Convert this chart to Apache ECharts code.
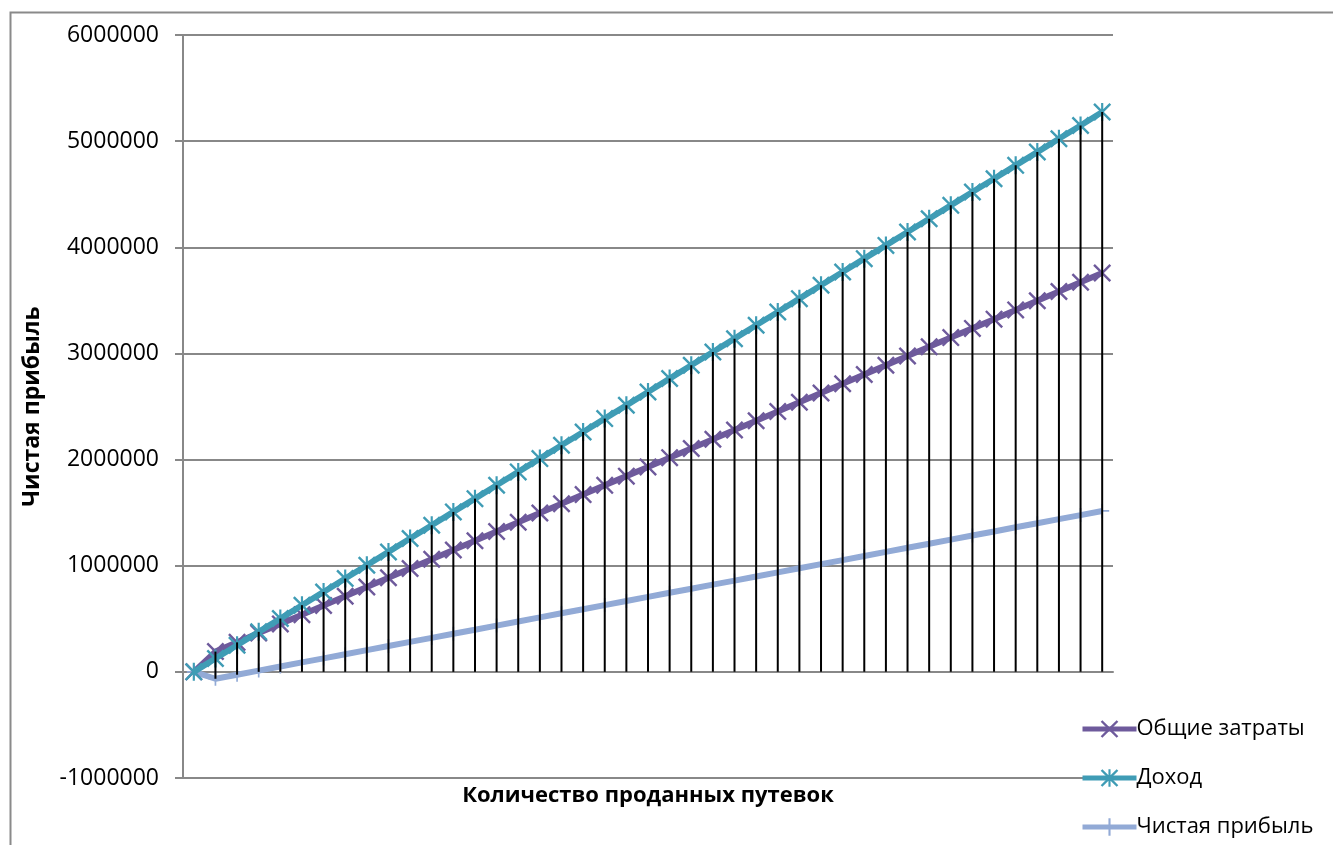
<!DOCTYPE html>
<html>
<head>
<meta charset="utf-8">
<script src="https://cdn.jsdelivr.net/npm/echarts@6/dist/echarts.min.js"></script>
<style>
html,body{margin:0;padding:0;background:#fff;}
#chart{width:1333px;height:845px;}
</style>
</head>
<body>
<div id="chart"></div>
<script>
var categories = ["0","1","2","3","4","5","6","7","8","9","10","11","12","13","14","15","16","17","18","19","20","21","22","23","24","25","26","27","28","29","30","31","32","33","34","35","36","37","38","39","40","41","42"];

var costs = [0,191000,278000,365000,452000,539000,626000,713000,800000,887000,974000,1061000,1148000,1235000,1322000,1409000,1496000,1583000,1670000,1757000,1844000,1931000,2018000,2105000,2192000,2279000,2366000,2453000,2540000,2627000,2714000,2801000,2888000,2975000,3062000,3149000,3236000,3323000,3410000,3497000,3584000,3671000,3758000];

var revenue = [0,126000,251000,377000,502000,628000,753000,879000,1005000,1130000,1256000,1381000,1507000,1632000,1758000,1884000,2009000,2135000,2260000,2386000,2511000,2637000,2763000,2888000,3014000,3139000,3265000,3390000,3516000,3642000,3767000,3893000,4018000,4144000,4269000,4395000,4521000,4646000,4772000,4897000,5023000,5148000,5274000];

var profit = [0,-65000,-27000,12000,50000,89000,127000,166000,205000,243000,282000,320000,359000,397000,436000,475000,513000,552000,590000,629000,667000,706000,745000,783000,822000,860000,899000,937000,976000,1015000,1053000,1092000,1130000,1169000,1207000,1246000,1285000,1323000,1362000,1400000,1439000,1477000,1516000];

var seriesNames = ["Общие затраты","Доход","Чистая прибыль"];
var yTicks = {min:-1000000, max:6000000, interval:1000000};

var COST_C = '#6E5A9C', REV_C = '#3F9CB5', PROF_C = '#92AAD6';
var X_PATH = 'path://M0,1.9L1.9,0L10,8.1L18.1,0L20,1.9L11.9,10L20,18.1L18.1,20L10,11.9L1.9,20L0,18.1L8.1,10Z';
var STAR_PATH = 'path://M0,1.9L1.9,0L10,8.1L18.1,0L20,1.9L11.9,10L20,18.1L18.1,20L10,11.9L1.9,20L0,18.1L8.1,10Z M8.8,0L11.2,0L11.2,20L8.8,20Z';
var PLUS_PATH = 'path://M0,8.8L20,8.8L20,11.2L0,11.2Z M8.8,0L11.2,0L11.2,20L8.8,20Z';

var dropData = categories.map(function(c, i){
  var lo = Math.min(0, costs[i], revenue[i], profit[i]);
  var hi = Math.max(0, costs[i], revenue[i], profit[i]);
  return [i, lo, hi];
});

var chart = echarts.init(document.getElementById('chart'));
var FONT = '"Open Sans", "Liberation Sans", sans-serif';

chart.setOption({
  animation: false,
  backgroundColor: '#fff',
  textStyle: {fontFamily: FONT},
  graphic: [{
    type: 'rect', left: 8, top: 10, z: -10,
    shape: {width: 1400, height: 900},
    style: {fill: 'none', stroke: '#8a8a8a', lineWidth: 2}
  }],
  grid: {left: 183, top: 35, right: 220, bottom: 67, containLabel: false, outerBoundsMode: 'none'},
  legend: {
    orient: 'vertical',
    left: 1080, top: 718, height: 127,
    padding: 0,
    itemWidth: 54, itemHeight: 22, itemGap: 27,
    data: seriesNames,
    lineStyle: {width: 5},
    textStyle: {fontSize: 22, lineHeight: 22, color: '#000', fontFamily: FONT, padding: [0,0,0,-5]}
  },
  xAxis: {
    type: 'category',
    data: categories,
    boundaryGap: true,
    axisLine: {onZero: true, lineStyle: {color: '#888', width: 2}},
    axisTick: {show: false},
    axisLabel: {show: false},
    splitLine: {show: false},
    name: 'Количество проданных путевок',
    nameLocation: 'middle',
    nameGap: 7,
    nameTextStyle: {fontSize: 22, fontWeight: 'bold', color: '#000', fontFamily: FONT}
  },
  yAxis: {
    type: 'value',
    min: yTicks.min, max: yTicks.max, interval: yTicks.interval,
    axisLine: {show: true, lineStyle: {color: '#888', width: 2}},
    axisTick: {show: true, length: 8, lineStyle: {color: '#888', width: 2}},
    axisLabel: {fontSize: 23, color: '#000', margin: 24, fontFamily: FONT,
      formatter: function(v){ return String(v); }},
    splitLine: {lineStyle: {color: '#888', width: 2}},
    name: 'Чистая прибыль',
    nameLocation: 'middle',
    nameRotate: 90,
    nameGap: 139,
    nameTextStyle: {fontSize: 23, fontWeight: 'bold', color: '#000', fontFamily: FONT}
  },
  series: [
    {
      name: seriesNames[0], type: 'line', data: costs, z: 3,
      symbol: X_PATH, symbolSize: 18, showAllSymbol: true,
      lineStyle: {color: COST_C, width: 6},
      itemStyle: {color: COST_C}
    },
    {
      name: seriesNames[1], type: 'line', data: revenue, z: 4,
      symbol: STAR_PATH, symbolSize: 18, showAllSymbol: true,
      lineStyle: {color: REV_C, width: 6},
      itemStyle: {color: REV_C}
    },
    {
      name: seriesNames[2], type: 'line', data: profit, z: 2,
      symbol: PLUS_PATH, symbolSize: 14, showAllSymbol: true,
      lineStyle: {color: PROF_C, width: 6},
      itemStyle: {color: PROF_C}
    },
    {
      type: 'custom', z: 5, silent: true,
      data: dropData,
      encode: {x: 0, y: [1, 2]},
      renderItem: function(params, api){
        var lo = api.coord([api.value(0), api.value(1)]);
        var hi = api.coord([api.value(0), api.value(2)]);
        if (Math.abs(hi[1] - lo[1]) < 0.5) return null;
        return {
          type: 'line',
          shape: {x1: lo[0], y1: lo[1], x2: hi[0], y2: hi[1]},
          style: {stroke: '#000', lineWidth: 2}
        };
      }
    }
  ]
});
</script>
</body>
</html>
